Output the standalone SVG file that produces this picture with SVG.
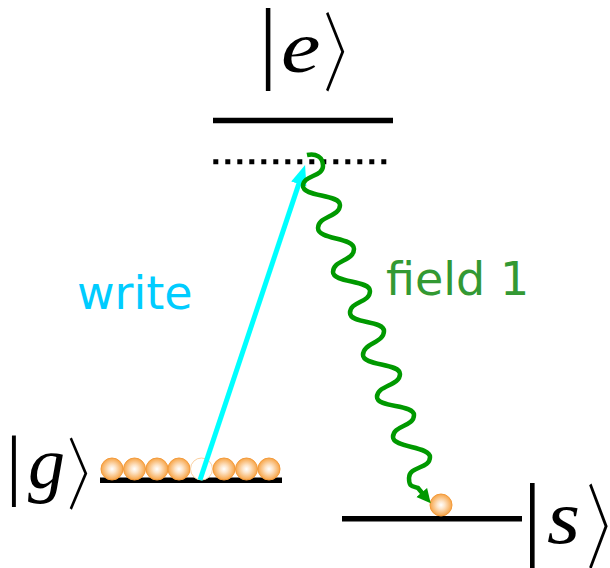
<svg xmlns="http://www.w3.org/2000/svg" width="610" height="568" viewBox="0 0 610 568">
<style>
.lvl{stroke:#000;stroke-width:5.5;fill:none}
.ket{font-family:"Liberation Serif","DejaVu Serif",serif;fill:#000}
.it{font-style:italic}
.atom{fill:url(#ag);stroke:#f39a3a;stroke-width:1}
.lbl{font-family:"DejaVu Sans","Liberation Sans",sans-serif;font-size:46px}
</style>
<defs>
<radialGradient id="ag" cx="50%" cy="50%" r="50%">
<stop offset="0" stop-color="#ffffff"/>
<stop offset="0.35" stop-color="#fde4c8"/>
<stop offset="1" stop-color="#f7a446"/>
</radialGradient>
<marker id="ahc" markerUnits="userSpaceOnUse" markerWidth="22" markerHeight="18" refX="2" refY="8" orient="auto"><path d="M0,0 L20,8 L0,16 z" fill="#00ffff"/></marker>
<marker id="ahg" markerUnits="userSpaceOnUse" markerWidth="16" markerHeight="16" refX="2" refY="7" orient="auto"><path d="M0,0 L14,7 L0,14 z" fill="#009900"/></marker>
</defs>
<g id="level-e">
<line class="lvl" x1="213" y1="120.5" x2="393" y2="120.5"/>
<text class="ket" x="259" y="72" font-size="91">|</text>
<text class="ket it" transform="translate(281,72) scale(1.2,1)" font-size="74">e</text>
<text class="ket" transform="translate(316,84) scale(0.85,1)" font-size="90">〉</text>
</g>
<g id="level-virtual">
<line x1="213.3" y1="161.7" x2="388" y2="161.7" stroke="#000" stroke-width="5" stroke-dasharray="5 7"/>
</g>
<g id="level-g">
<line class="lvl" x1="100" y1="480.3" x2="282" y2="480.3"/>
<text class="ket" x="6" y="490" font-size="79">|</text>
<text class="ket it" x="28" y="488" font-size="74">g</text>
<text class="ket" transform="translate(59.7,502.7) scale(0.9,1)" font-size="82">〉</text>
<circle class="atom" cx="112" cy="469" r="11"/>
<circle class="atom" cx="134.5" cy="469" r="11"/>
<circle class="atom" cx="157" cy="469" r="11"/>
<circle class="atom" cx="179" cy="469" r="11"/>
<circle cx="201.5" cy="469" r="11" fill="#fff" stroke="#f9cf9f" stroke-width="1"/>
<circle class="atom" cx="224" cy="469" r="11"/>
<circle class="atom" cx="246.5" cy="469" r="11"/>
<circle class="atom" cx="269" cy="469" r="11"/>
</g>
<g id="level-s">
<line class="lvl" x1="342" y1="518.7" x2="522" y2="518.7"/>
<text class="ket" x="523" y="548" font-size="93">|</text>
<text class="ket it" transform="translate(547,543) scale(1.12,1)" font-size="76">s</text>
<text class="ket" transform="translate(579.1,560.7) scale(0.8,1)" font-size="97">〉</text>
<circle class="atom" cx="441" cy="505" r="11"/>
</g>
<g id="connectors">
<line x1="200" y1="480" x2="299.4" y2="182.1" stroke="#00ffff" stroke-width="5" marker-end="url(#ahc)"/>
<path d="M307,155 C316,153 323,157 323,166 C323,177 303,175 303,186 C303,197 340,194 340,205 C340,217 318,216 318,228 C318,240 354,237 354,249 C354,261 333,260 333,272 C333,283 370,280 370,291 C370,303 350,301 350,313 C350,324 384,320 384,331 C384,343 363,343 363,355 C363,366 400,363 400,374 C400,386 377,385 377,397 C377,408 414,404 414,415 C414,427 393,425 393,437 C393,448 430,446 430,457 C430,469 409,466 409,478 C409,487 412,486 418,488 L423,494" fill="none" stroke="#009900" stroke-width="4.5" marker-end="url(#ahg)"/>
</g>
<g id="labels">
<text class="lbl" x="77" y="309" fill="#00ccff">write</text>
<text class="lbl" x="386" y="295" fill="#339933">field 1</text>
</g>
</svg>
